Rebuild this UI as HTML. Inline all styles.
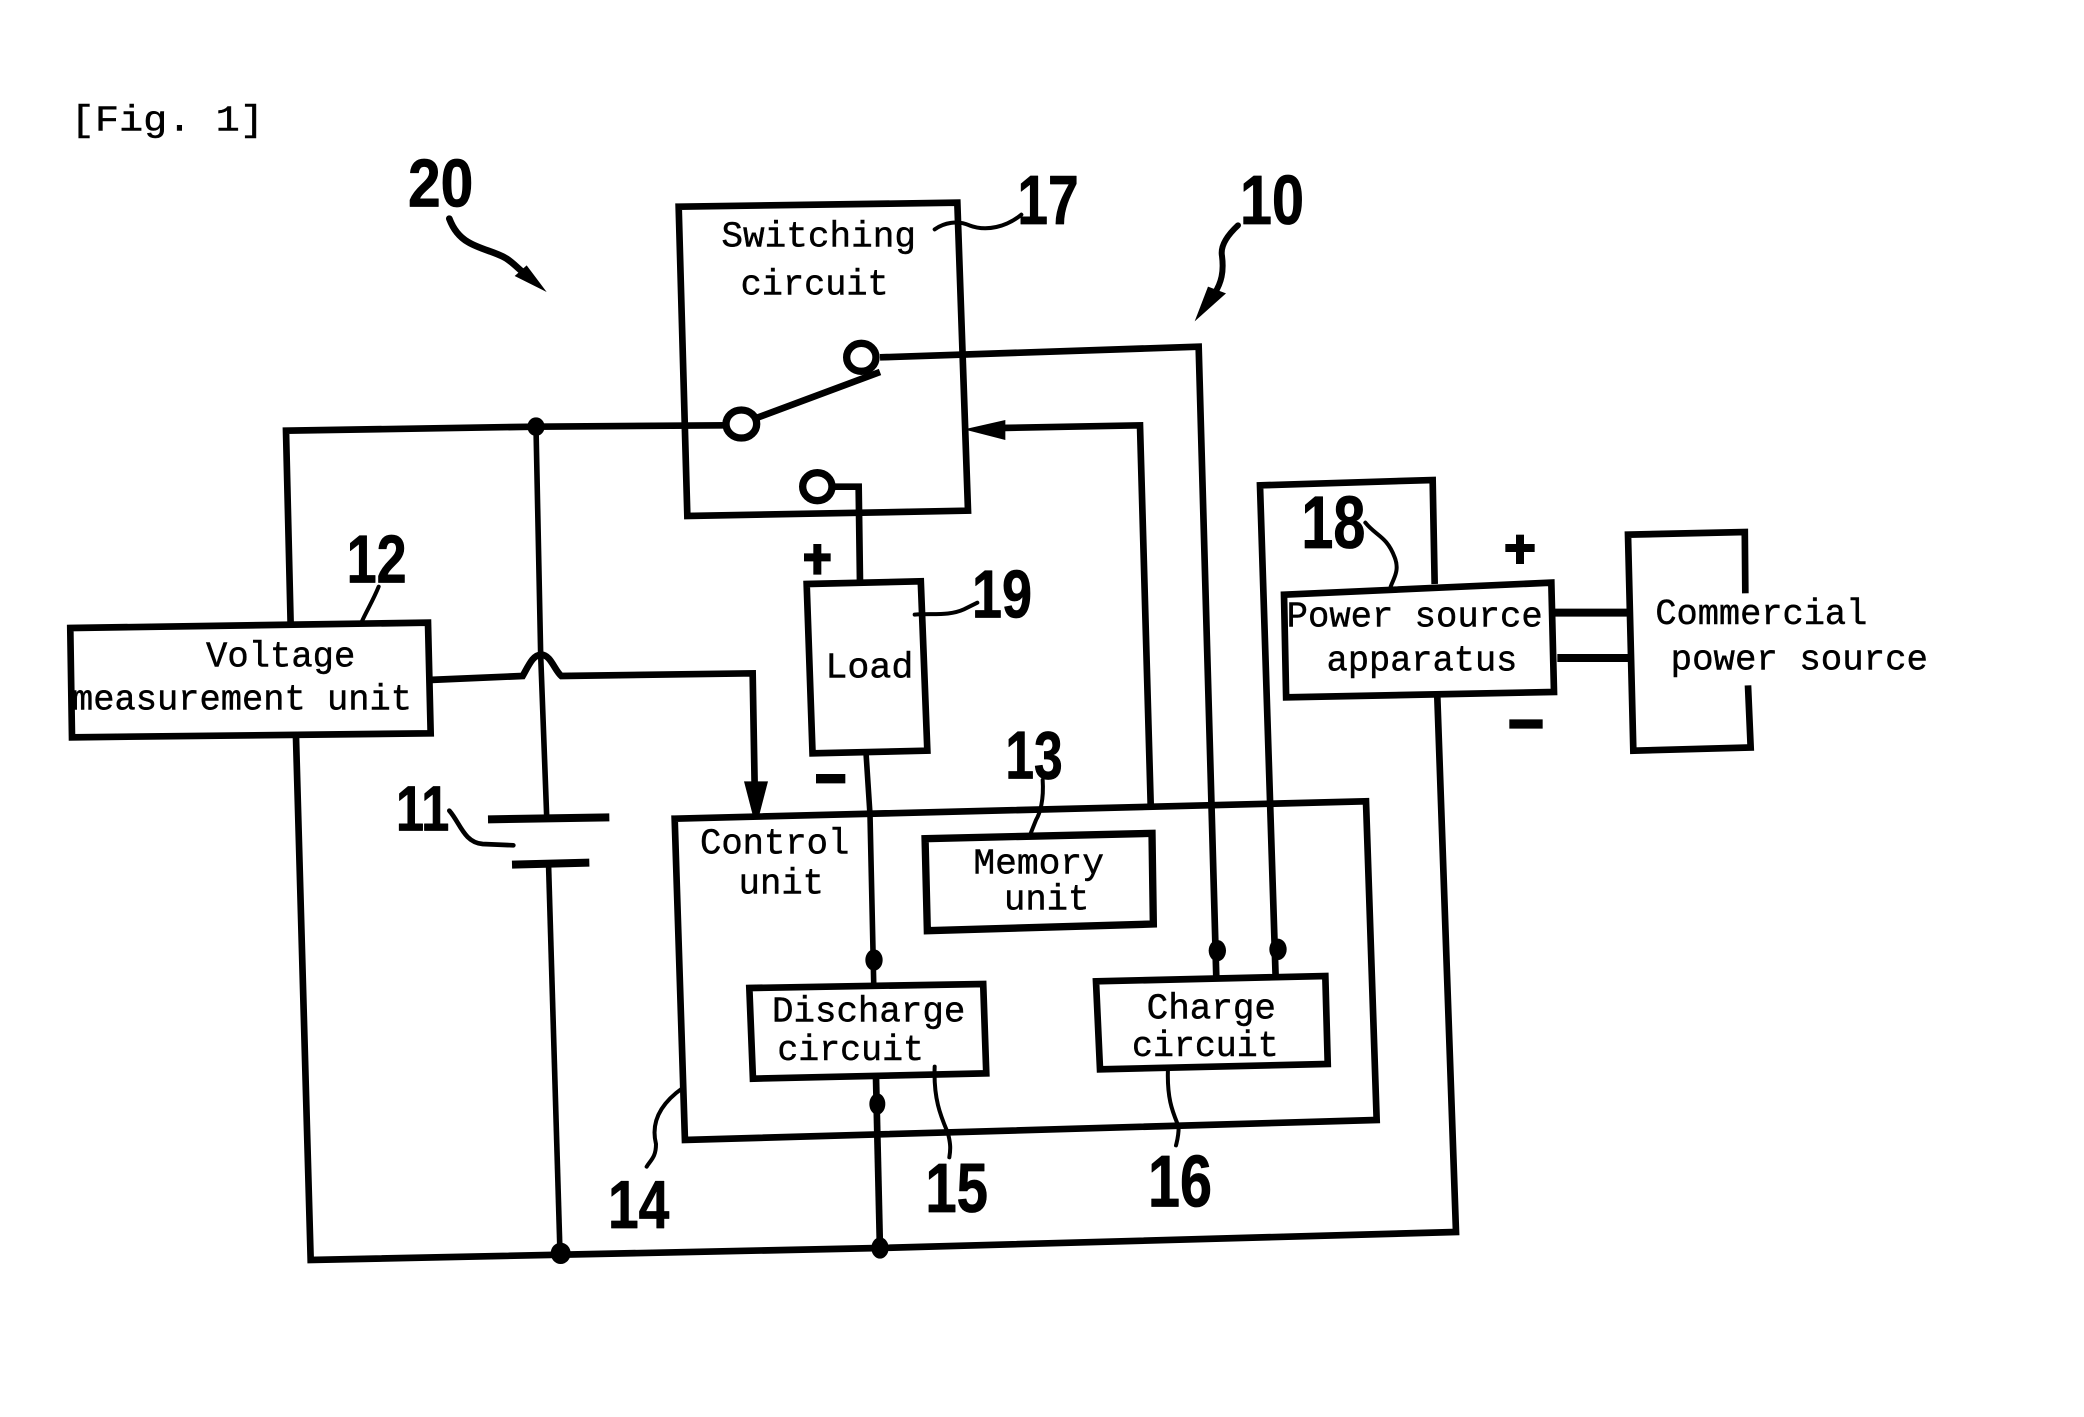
<!DOCTYPE html>
<html><head><meta charset="utf-8"><style>
html,body{margin:0;padding:0;background:#fff}
svg{display:block;width:2084px;height:1417px}
.m{font-family:"Liberation Mono",monospace;font-size:27px;fill:#000;stroke:#000;stroke-width:.35}
.n{font-family:"Liberation Sans",sans-serif;font-weight:bold;fill:#000;stroke:#000;stroke-width:.6;stroke-linejoin:round}
.t{fill:none;stroke:#000;stroke-width:5;stroke-linejoin:miter}
.w{fill:none;stroke:#000;stroke-width:4.2}
.c{fill:none;stroke:#000;stroke-width:3;stroke-linecap:round}
</style></head><body>
<svg xmlns="http://www.w3.org/2000/svg" viewBox="0 0 1563 1062.75">
<rect width="1563" height="1063" fill="#fff"/>

<!-- wires -->
<polyline class="t" points="218,469 214.5,323 402,320 545,319"/>
<polyline class="w" points="402,320 405.5,491 410,612"/>
<polyline class="w" points="411.4,648 420,940"/>
<polyline class="t" points="222,553 233,945 660,936 1092,924 1078,523"/>
<path class="t" d="M321.5,510 L392,507 C397,498 400,491 406,491 C413,491 416,503 421,507 L564.5,505 L566,590"/>
<polyline class="t" points="660,268 899,260 912.2,732"/>
<polyline class="t" points="956.7,732 945,364 1074.5,360 1076,438"/>
<polyline class="t" points="750,321 855,319 863,603"/>
<polyline class="t" points="625,365 644,365 645,437"/>
<polyline class="w" points="649.6,566 652.5,611 655.3,738"/>
<polyline class="t" points="657,808 660,938"/>
<line x1="1166" y1="459.5" x2="1222" y2="459.5" stroke="#000" stroke-width="6"/>
<line x1="1168" y1="493.5" x2="1224" y2="493.5" stroke="#000" stroke-width="6"/>

<!-- boxes -->
<polygon class="t" points="509,155 718,152 726,383 515.5,387" fill="none"/>
<polygon class="t" points="52.7,471 321,467 323,550 54,553" style="fill:#fff"/>
<polygon class="t" points="605,438 690.6,436 695.5,563 609.4,565" style="fill:#fff"/>
<polygon class="t" points="506,614 1024.5,601 1032.5,840 513.7,855"/>
<polygon class="t" points="693.8,629 864,625 865,693 695.5,698" style="fill:#fff;stroke-width:5.5"/>
<polygon class="t" points="562,741 737.4,738 739.7,805 564.7,809" style="fill:#fff"/>
<polygon class="t" points="822,736 994,732 995.8,798 825,802" style="fill:#fff"/>
<polygon class="t" points="963,446 1163.5,437 1165.5,519 964.6,523" style="fill:#fff"/>
<polyline class="t" points="1309,445 1308.6,399 1221,401 1225,563 1313,560.6 1311,514"/>

<!-- switch terminals and arm -->
<line x1="566" y1="314" x2="660" y2="279" stroke="#000" stroke-width="5"/>
<ellipse cx="556" cy="318" rx="11.5" ry="10.5" fill="#fff" stroke="#000" stroke-width="5.5"/>
<ellipse cx="646" cy="268" rx="11" ry="10.5" fill="#fff" stroke="#000" stroke-width="5.5"/>
<ellipse cx="613" cy="365" rx="11" ry="10.5" fill="#fff" stroke="#000" stroke-width="5.5"/>

<!-- battery -->
<line x1="366" y1="614.5" x2="457" y2="613" stroke="#000" stroke-width="6"/>
<line x1="384" y1="648.5" x2="442" y2="647" stroke="#000" stroke-width="6"/>

<!-- dots -->
<ellipse cx="402" cy="320" rx="6.5" ry="7"/>
<ellipse cx="420.5" cy="940" rx="7.5" ry="8"/>
<ellipse cx="660" cy="936" rx="6.5" ry="8"/>
<ellipse cx="655.5" cy="720" rx="6.5" ry="8"/>
<ellipse cx="658" cy="828" rx="6" ry="8"/>
<ellipse cx="913" cy="713" rx="6.5" ry="8"/>
<ellipse cx="958.5" cy="712" rx="6.5" ry="8"/>

<!-- arrowheads -->
<polygon points="558,586 576,586 569,613 565,613"/>
<polygon points="723,322 754,315 754,330"/>
<polygon points="410,219 386,207 395,199"/>
<polygon points="896,241 906,215 919.5,220"/>

<!-- leaders -->
<path class="c" d="M337,164 C340,172 345,178 351,181.5 C360,187 372,189 380,194 C386,198 390,203 397,208" style="stroke-width:5"/>
<path class="c" d="M928.5,169 C921,176 915,184 916.5,192 C918,204 916,212 911,220" style="stroke-width:4.5"/>
<path class="c" d="M701,172 C708,167 718,165 727,169 C740,174 755,170 766,161"/>
<path class="c" d="M284,440 C280,450 275,458 271,467"/>
<path class="c" d="M686,461 C700,460 712,462 723,457 L733,452"/>
<path class="c" d="M1024,392 C1032,402 1040,402 1046,418 C1050,428 1045,434 1043,440"/>
<path class="c" d="M782,585 C783,600 780,610 777,615 L773,625"/>
<path class="c" d="M337,608 C345,617 348,632 362,633 L385,634" style="stroke-width:3.5"/>
<path class="c" d="M512,816 C495,828 488,842 492,858 C492,868 488,870 485,875"/>
<path class="c" d="M701,800 C700,825 706,838 711,850 C713,858 713,862 712,868"/>
<path class="c" d="M876,801 C875,825 880,835 884,845 C884,852 883,855 882,859"/>

<!-- plus / minus -->
<g stroke="#000" stroke-width="6">
<line x1="603" y1="418" x2="623" y2="418"/><line x1="613" y1="408" x2="613" y2="431"/>
<line x1="1129" y1="411" x2="1151" y2="411"/><line x1="1140" y1="401" x2="1140" y2="423"/>
<line x1="612" y1="584" x2="634" y2="584" stroke-width="7"/>
<line x1="1132" y1="543" x2="1157" y2="543" stroke-width="7"/>
</g>

<!-- text -->
<text class="m" x="53" y="98" textLength="145" lengthAdjust="spacingAndGlyphs">[Fig. 1]</text>
<text class="m" x="541" y="185" textLength="146" lengthAdjust="spacingAndGlyphs">Switching</text>
<text class="m" x="555.5" y="221" textLength="111" lengthAdjust="spacingAndGlyphs">circuit</text>
<text class="m" x="154.5" y="500" textLength="112" lengthAdjust="spacingAndGlyphs">Voltage</text>
<text class="m" x="54" y="532" textLength="255" lengthAdjust="spacingAndGlyphs">measurement unit</text>
<text class="m" x="619" y="508" textLength="66" lengthAdjust="spacingAndGlyphs">Load</text>
<text class="m" x="525" y="640" textLength="112" lengthAdjust="spacingAndGlyphs">Control</text>
<text class="m" x="554" y="670" textLength="64" lengthAdjust="spacingAndGlyphs">unit</text>
<text class="m" x="730" y="655" textLength="98" lengthAdjust="spacingAndGlyphs">Memory</text>
<text class="m" x="753" y="682" textLength="64" lengthAdjust="spacingAndGlyphs">unit</text>
<text class="m" x="579" y="766" textLength="145" lengthAdjust="spacingAndGlyphs">Discharge</text>
<text class="m" x="583" y="795" textLength="110" lengthAdjust="spacingAndGlyphs">circuit</text>
<text class="m" x="860" y="764" textLength="97" lengthAdjust="spacingAndGlyphs">Charge</text>
<text class="m" x="849" y="792" textLength="110" lengthAdjust="spacingAndGlyphs">circuit</text>
<text class="m" x="965" y="470" textLength="192" lengthAdjust="spacingAndGlyphs">Power source</text>
<text class="m" x="995" y="503" textLength="143" lengthAdjust="spacingAndGlyphs">apparatus</text>
<text class="m" x="1241.5" y="468" textLength="159" lengthAdjust="spacingAndGlyphs">Commercial</text>
<text class="m" x="1253" y="502" textLength="193" lengthAdjust="spacingAndGlyphs">power source</text>

<text class="n" x="306" y="155" font-size="51" textLength="49" lengthAdjust="spacingAndGlyphs">20</text>
<text class="n" x="763" y="168" font-size="52" textLength="46" lengthAdjust="spacingAndGlyphs">17</text>
<text class="n" x="930" y="168" font-size="52" textLength="48" lengthAdjust="spacingAndGlyphs">10</text>
<text class="n" x="260" y="437" font-size="51" textLength="45" lengthAdjust="spacingAndGlyphs">12</text>
<text class="n" x="729" y="463" font-size="51" textLength="45" lengthAdjust="spacingAndGlyphs">19</text>
<text class="n" x="976" y="411" font-size="56" textLength="48" lengthAdjust="spacingAndGlyphs">18</text>
<text class="n" x="754" y="584" font-size="51" textLength="43" lengthAdjust="spacingAndGlyphs">13</text>
<text class="n" x="297" y="623" font-size="48" textLength="40" lengthAdjust="spacingAndGlyphs">11</text>
<text class="n" x="456" y="921" font-size="51" textLength="46" lengthAdjust="spacingAndGlyphs">14</text>
<text class="n" x="694" y="909" font-size="52" textLength="47" lengthAdjust="spacingAndGlyphs">15</text>
<text class="n" x="861" y="905" font-size="55" textLength="48" lengthAdjust="spacingAndGlyphs">16</text>
</svg>
</body></html>
